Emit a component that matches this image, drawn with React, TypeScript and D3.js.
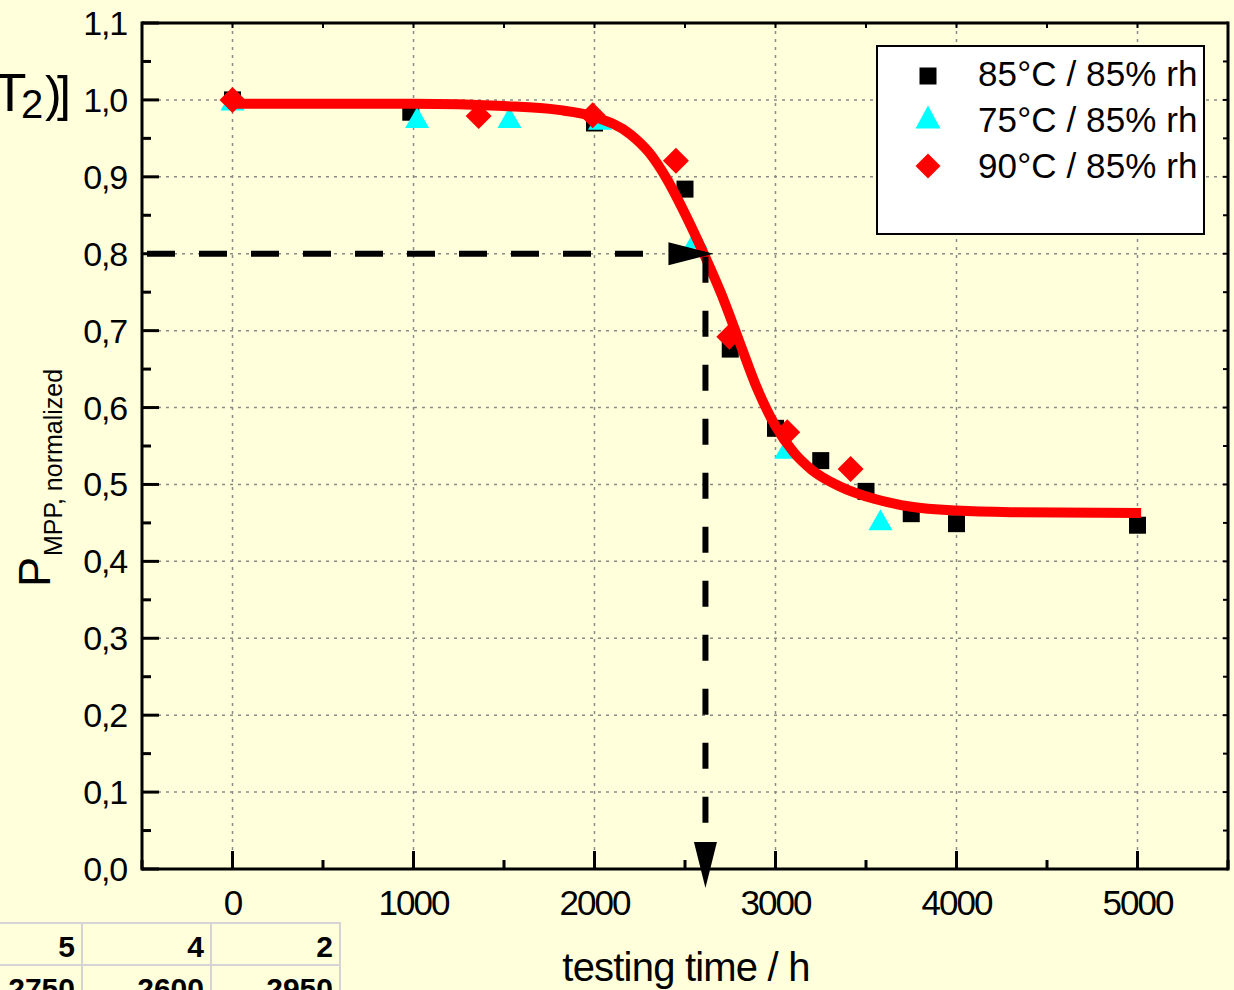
import React from "react";
import * as d3 from "d3";

// ---- data ----
const sq85X = [0, 985, 2000, 2500, 2750, 3000, 3250, 3500, 3750, 4000, 5000];
const sq85Y = [1.0, 0.984, 0.97, 0.884, 0.676, 0.573, 0.531, 0.491, 0.462, 0.449, 0.447];
const tri75X = [0, 1020, 1530, 2030, 2560, 3060, 3580];
const tri75Y = [1.0, 0.977, 0.977, 0.975, 0.82, 0.547, 0.454];
const dia90X = [0, 1360, 1990, 2450, 2745, 3065, 3415];
const dia90Y = [1.0, 0.979, 0.98, 0.921, 0.692, 0.568, 0.52];
const fitX = [0, 1000, 1500, 1800, 2000, 2200, 2300, 2400, 2500, 2600, 2700, 2800, 2900, 3000, 3100, 3200, 3350, 3550, 3750, 4000, 4300, 5020];
const fitY = [0.995, 0.995, 0.992, 0.987, 0.978, 0.955, 0.932, 0.897, 0.852, 0.802, 0.748, 0.686, 0.624, 0.576, 0.542, 0.519, 0.498, 0.481, 0.471, 0.466, 0.464, 0.463];
const xTicks = [0, 1000, 2000, 3000, 4000, 5000];
const yTicks = [0, 0.1, 0.2, 0.3, 0.4, 0.5, 0.6, 0.7, 0.8, 0.9, 1.0, 1.1];
const yTickLabels = ["0,0", "0,1", "0,2", "0,3", "0,4", "0,5", "0,6", "0,7", "0,8", "0,9", "1,0", "1,1"];
const legendLabels = ["85°C / 85% rh", "75°C / 85% rh", "90°C / 85% rh"];
const markX = 2613; // time at which P = 0.8
const markY = 0.8;
const tableRow1 = ["5", "4", "2"];
const tableRow2 = ["2750", "2600", "2950"];

const W = 1234, H = 990;
const L = 142, R = 1228, T = 23, B = 869;
const FONT = "'Liberation Sans', Arial, sans-serif";

export default function App() {
  const x = d3.scaleLinear().domain([-500, 5500]).range([L, R]);
  const y = d3.scaleLinear().domain([0, 1.1]).range([B, T]);
  const line = d3
    .line<number>()
    .x((_, i) => x(fitX[i]))
    .y((d) => y(d))
    .curve(d3.curveMonotoneX);

  const minorY = d3.range(0, 23).map((i) => i * 0.05);
  const minorX = d3.range(-1, 12).map((i) => i * 500);

  const tri = (cx: number, cy: number, w = 24, h = 21) =>
    `M${cx},${cy - h / 2}L${cx + w / 2},${cy + h / 2}L${cx - w / 2},${cy + h / 2}Z`;
  const dia = (cx: number, cy: number, r = 13) =>
    `M${cx},${cy - r}L${cx + r},${cy}L${cx},${cy + r}L${cx - r},${cy}Z`;

  const mx = x(markX), my = y(markY);

  return (
    <svg
      width={W}
      height={H}
      style={{ position: "absolute", left: 0, top: 0 }}
      fontFamily={FONT}
    >
      <rect x={0} y={0} width={W} height={H} fill="#ffffdc" />

      {/* grid */}
      {xTicks.map((t) => (
        <line key={"gx" + t} x1={x(t)} x2={x(t)} y1={T} y2={B} stroke="#8a8a8a" strokeWidth={1.5} strokeDasharray="3,5" />
      ))}
      {yTicks.slice(1, 11).map((t) => (
        <line key={"gy" + t} x1={L} x2={R} y1={y(t)} y2={y(t)} stroke="#8a8a8a" strokeWidth={1.5} strokeDasharray="3,5" />
      ))}

      {/* markers */}
      {sq85X.map((v, i) => (
        <rect key={"s" + i} x={x(v) - 8.5} y={y(sq85Y[i]) - 8.5} width={17} height={17} fill="#000" />
      ))}
      {tri75X.map((v, i) => (
        <path key={"t" + i} d={tri(x(v), y(tri75Y[i]))} fill="#00ffff" />
      ))}
      {dia90X.map((v, i) => (
        <path key={"d" + i} d={dia(x(v), y(dia90Y[i]))} fill="#ff0000" />
      ))}

      {/* fit curve */}
      <path d={line(fitY) || ""} fill="none" stroke="#ff0000" strokeWidth={10} strokeLinejoin="round" />

      {/* dashed guide lines with arrows */}
      <line x1={L + 5} x2={mx - 40} y1={my} y2={my} stroke="#000" strokeWidth={6} strokeDasharray="28,24" />
      <path d={`M${mx + 8},${my}L${mx - 37},${my - 11.5}L${mx - 37},${my + 11.5}Z`} fill="#000" />
      <line x1={mx} x2={mx} y1={my + 3} y2={B - 30} stroke="#000" strokeWidth={6} strokeDasharray="26,28" />
      <path d={`M${mx},${B + 19}L${mx - 11.5},${B - 27}L${mx + 11.5},${B - 27}Z`} fill="#000" />

      {/* axes frame */}
      <line x1={L} x2={L} y1={T - 1.5} y2={B + 1.5} stroke="#000" strokeWidth={3} />
      <line x1={R} x2={R} y1={T - 1.5} y2={B + 1.5} stroke="#000" strokeWidth={3} />
      <line x1={L} x2={R} y1={T} y2={T} stroke="#000" strokeWidth={3} />
      <line x1={L} x2={R} y1={B} y2={B} stroke="#000" strokeWidth={3} />

      {/* ticks */}
      {minorY.map((t, i) => (
        <g key={"ty" + i}>
          <line x1={L} x2={L + (i % 2 === 0 ? 17 : 9)} y1={y(t)} y2={y(t)} stroke="#000" strokeWidth={3} />
          <line x1={R} x2={R - 5} y1={y(t)} y2={y(t)} stroke="#000" strokeWidth={2} />
        </g>
      ))}
      {minorX.map((t, i) => (
        <g key={"tx" + i}>
          <line x1={x(t)} x2={x(t)} y1={B} y2={B - (t % 1000 === 0 ? 18 : 9)} stroke="#000" strokeWidth={3} />
          <line x1={x(t)} x2={x(t)} y1={T} y2={T + 5} stroke="#000" strokeWidth={2} />
        </g>
      ))}

      {/* tick labels */}
      {yTicks.map((t, i) => (
        <text key={"yl" + i} x={127} y={y(t) + 12} textAnchor="end" fontSize={34} letterSpacing={-1.2} fill="#000">
          {yTickLabels[i]}
        </text>
      ))}
      {xTicks.map((t) => (
        <text key={"xl" + t} x={x(t)} y={915} textAnchor="middle" fontSize={35} letterSpacing={-2} fill="#000">
          {String(t)}
        </text>
      ))}

      {/* axis titles */}
      <text x={686} y={981} textAnchor="middle" fontSize={40} letterSpacing={-0.8} fill="#000">
        testing time / h
      </text>
      <text transform="translate(50,587) rotate(-90)" fill="#000">
        <tspan fontSize={45}>P</tspan>
        <tspan fontSize={25} dy={12} dx={1}>MPP, normalized</tspan>
      </text>

      {/* cut-off label at top left */}
      <text x={10} y={111} textAnchor="middle" fontSize={54} fill="#000">T</text>
      <text x={21} y={118} fontSize={40} fill="#000">2</text>
      <text x={45} y={111} fontSize={50} fill="#000">)</text>
      <text x={57} y={111} fontSize={50} fill="#000">]</text>

      {/* legend */}
      <rect x={877} y={46} width={327} height={188} fill="#fff" stroke="#000" strokeWidth={2} />
      <rect x={928 - 8.5} y={76 - 8.5} width={17} height={17} fill="#000" />
      <path d={tri(928, 117, 25, 23)} fill="#00ffff" />
      <path d={dia(928, 166, 12.5)} fill="#ff0000" />
      {legendLabels.map((s, i) => (
        <text key={"lg" + i} x={978} y={86 + i * 46} fontSize={35} letterSpacing={0.1} fill="#000">
          {s}
        </text>
      ))}

      {/* partial table at bottom left */}
      <g stroke="#d4d4d4" strokeWidth={2}>
        <line x1={0} x2={341} y1={923} y2={923} />
        <line x1={0} x2={341} y1={965} y2={965} />
        <line x1={82} x2={82} y1={923} y2={H} />
        <line x1={211} x2={211} y1={923} y2={H} />
        <line x1={340} x2={340} y1={922} y2={H} />
      </g>
      {tableRow1.map((s, i) => (
        <text key={"r1" + i} x={[75, 204, 333][i]} y={957} textAnchor="end" fontSize={30} fontWeight="bold" fill="#000">
          {s}
        </text>
      ))}
      {tableRow2.map((s, i) => (
        <text key={"r2" + i} x={[75, 204, 333][i]} y={999} textAnchor="end" fontSize={30} fontWeight="bold" fill="#000">
          {s}
        </text>
      ))}
    </svg>
  );
}
